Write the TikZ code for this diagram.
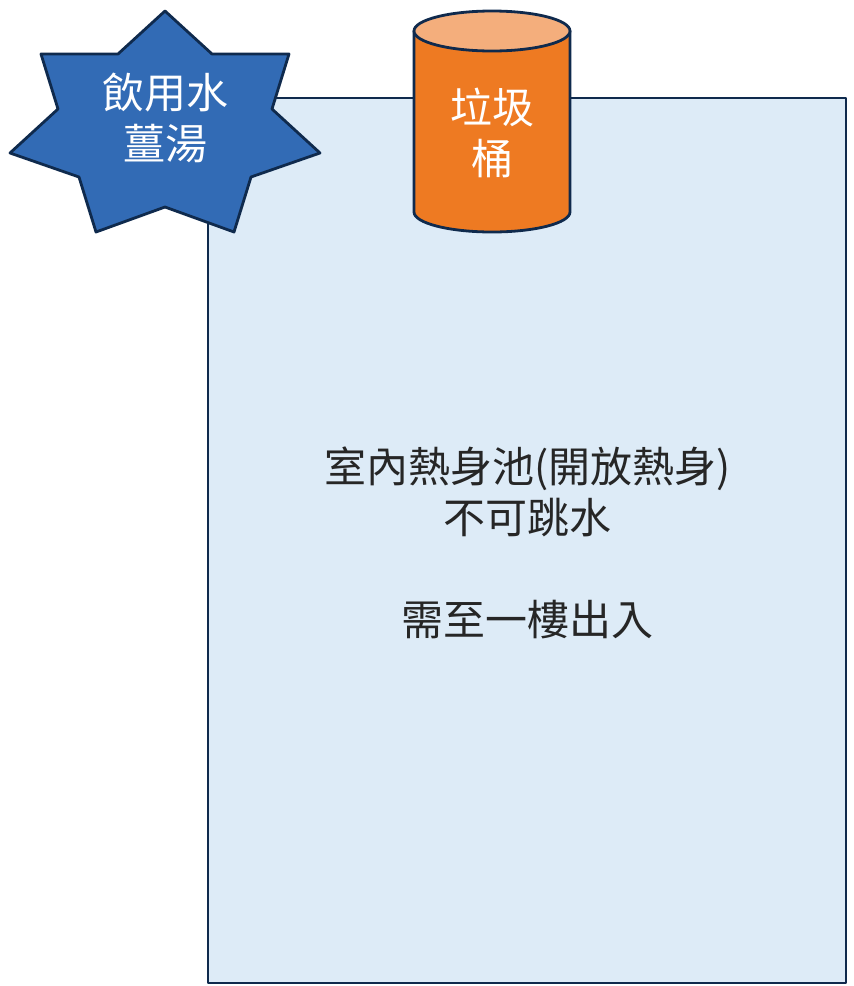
\documentclass[tikz,border=0pt]{standalone}
\usepackage{fontspec}
\newfontfamily\cjk{Noto Sans CJK TC}
\definecolor{edgeblue}{HTML}{0F2A4D}
\definecolor{poolfill}{HTML}{DDEBF7}
\definecolor{starfill}{HTML}{326BB5}
\definecolor{binfill}{HTML}{EE7A22}
\definecolor{bintop}{HTML}{F4AE7C}
\definecolor{inktext}{HTML}{262626}
\tikzset{
  outline/.style={draw=edgeblue,line width=2.8pt,line join=round},
  label/.style={align=center,inner sep=0pt,font=\cjk\fontsize{42}{51}\selectfont},
}
\begin{document}
\begin{tikzpicture}[x=1pt,y=-1pt]
\useasboundingbox (0,0) rectangle (854,986);
\fill[white] (0,0) rectangle (854,986);
% pool
\path[outline,fill=poolfill] (208,98) rectangle (846,983);
\node[label,text=inktext] (pool) at (527.5,543) {室內熱身池(開放熱身)\\不可跳水\\[51pt]需至一樓出入};
% star
\path[outline,fill=starfill] (165,11) -- (212,54) -- (289,54) -- (272,109) -- (320,153) -- (251,177) -- (234,232) -- (165,207) -- (96,232) -- (79,177) -- (10,153) -- (58,109) -- (41,54) -- (118,54) -- cycle;
\node[label,text=white] (drink) at (165,118) {飲用水\\薑湯};
% bin
\path[outline,fill=binfill] (414,31) -- (414,212) arc[start angle=180,end angle=0,x radius=78,y radius=20] -- (570,31) -- cycle;
\path[outline,fill=bintop] (492,31) ellipse[x radius=78,y radius=20];
\node[label,text=white] (bin) at (492,133) {垃圾\\桶};
\end{tikzpicture}
\end{document}
